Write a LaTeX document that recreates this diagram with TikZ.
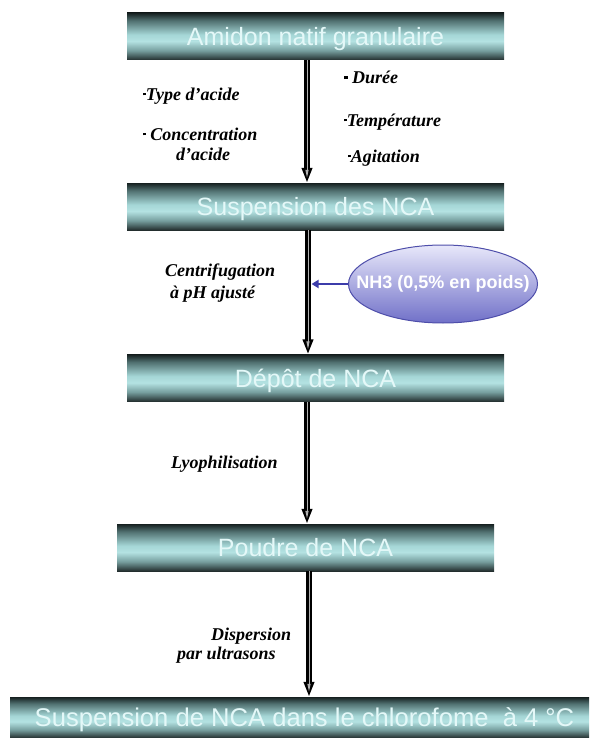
\documentclass[tikz,border=0pt]{standalone}
\usepackage{fontspec}
\setmainfont{Liberation Serif}
\newfontfamily\barfont{Liberation Sans}
\usetikzlibrary{arrows.meta,shapes.geometric,calc}
\definecolor{bardarkt}{RGB}{22,32,32}
\definecolor{barmidt}{RGB}{80,112,112}
\definecolor{barlight2}{RGB}{165,214,214}
\definecolor{barlight}{RGB}{180,226,226}
\definecolor{barmidb}{RGB}{118,158,158}
\definecolor{bardark}{RGB}{35,46,46}
\definecolor{bartext}{RGB}{228,248,248}
\definecolor{elltop}{RGB}{232,232,250}
\definecolor{ellbot}{RGB}{112,112,200}
\definecolor{elldraw}{RGB}{78,78,170}
\definecolor{nharrowc}{RGB}{60,60,170}
\pgfdeclareverticalshading{barshade}{100bp}{color(0bp)=(bardark); color(25bp)=(bardark); color(35bp)=(barmidb); color(45bp)=(barlight); color(52bp)=(barlight2); color(67bp)=(barmidt); color(75bp)=(bardarkt); color(100bp)=(bardarkt)}
\newcommand\sqb{\rule[0.27em]{2.6pt}{2.6pt}}
\newcommand\sqbig{\rule[0.22em]{3.4pt}{3.4pt}}
\begin{document}
\begin{tikzpicture}[x=1pt,y=-1pt,
  bar/.style={shade, shading=barshade, minimum width=377pt, minimum height=47pt, inner sep=0pt,
    text height=18pt, text depth=0pt,
    font=\barfont\fontsize{25}{30}\selectfont, text=bartext},
  lab/.style={font=\bfseries\itshape\fontsize{18}{21}\selectfont, anchor=west, inner sep=0pt},
  flowout/.style={line width=5.5pt, draw=black, -{Triangle[length=15pt,width=10pt]}},
  flowin/.style={line width=1pt, draw=gray!60, shorten >=5pt, -{Triangle[length=8pt,width=3pt]}},
  nharrow/.style={line width=2.5pt, draw=nharrowc, -{Triangle[length=7pt,width=8pt]}}
]
\useasboundingbox (0,0) rectangle (589,738);

% bars
\node[bar] (b1) at (315.5,36.5) {Amidon natif granulaire};
\node[bar] (b2) at (315.5,206.5) {Suspension des NCA};
\node[bar] (b3) at (315.5,378) {Dépôt de NCA};
\node[bar] (b4) at (305.5,547.5) {Poudre de NCA};
\node[bar, minimum width=579pt, minimum height=41pt, font=\barfont\fontsize{25.6}{30}\selectfont] (b5) at (299.5,717.5) {\hspace*{10pt}Suspension de NCA dans le chlorofome\ \ à 4 °C};

% arrow axes
\coordinate (a1) at (307,0);
\coordinate (a2) at (308,0);
\coordinate (a3) at (307,0);
\coordinate (a4) at (309,0);

\draw[flowout] (b1.south -| a1) -- (b2.north -| a1);
\draw[flowin]  (b1.south -| a1) -- (b2.north -| a1);
\draw[flowout] (b2.south -| a2) -- (b3.north -| a2);
\draw[flowin]  (b2.south -| a2) -- (b3.north -| a2);
\draw[flowout] (b3.south -| a3) -- (b4.north -| a3);
\draw[flowin]  (b3.south -| a3) -- (b4.north -| a3);
\draw[flowout] (b4.south -| a4) -- (b5.north -| a4);
\draw[flowin]  (b4.south -| a4) -- (b5.north -| a4);

% ellipse
\node[ellipse, minimum width=189pt, minimum height=78pt, inner sep=0pt, top color=elltop, bottom color=ellbot,
  draw=elldraw, line width=1pt] (e) at (443,284) {};
\node[text=white, inner sep=0pt, font=\barfont\bfseries\fontsize{18}{22}\selectfont] (et) at (e.center) {NH3 (0,5\% en poids)};
\draw[nharrow] (e.west) -- ($(e.west -| a2)+(3.5,0)$);

% labels
\node[lab] (l1) at (143,96) {\sqb Type d’acide};
\node[lab] (l2) at (143,134) {\sqb\ Concentration};
\node[lab] (l3) at (176,154) {d’acide};
\node[lab] (l4) at (344,77) {\sqbig\ Durée};
\node[lab] (l5) at (344,122) {\sqb Température};
\node[lab] (l6) at (348,158) {\sqb Agitation};
\node[lab] (l7) at (165,272) {Centrifugation};
\node[lab] (l8) at (170,294) {à pH ajusté};
\node[lab] (l9) at (171,464) {Lyophilisation};
\node[lab] (l10) at (211,636) {Dispersion};
\node[lab] (l11) at (177,655) {par ultrasons};
\end{tikzpicture}
\end{document}
